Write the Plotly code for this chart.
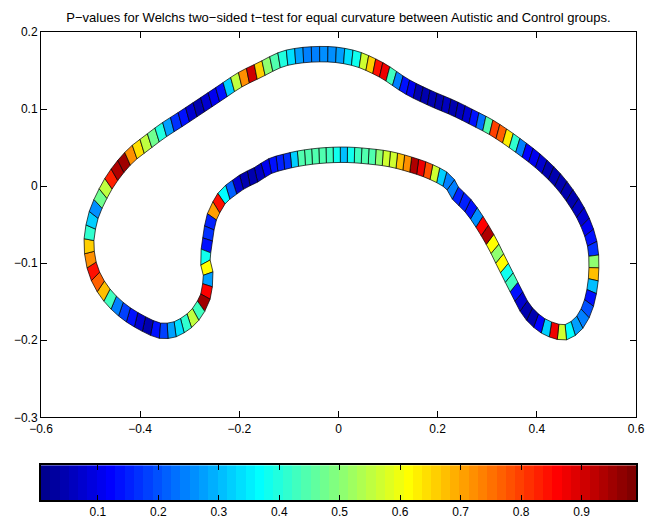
import numpy as np
import plotly.graph_objects as go

# Centerline of the contour (data units), traversed as a closed loop
center_x = [-0.360, -0.3867, -0.4270, -0.4607, -0.4843, -0.4976, -0.5030, -0.5024, -0.4944, -0.4774,
            -0.4540, -0.4204, -0.3867, -0.3538, -0.3196, -0.2792, -0.2389, -0.1986, -0.1583, -0.1179,
            -0.0843, -0.0440, -0.0036, 0.0367, 0.0702, 0.0972, 0.1375, 0.1845, 0.2315, 0.2718,
            0.3121, 0.3593, 0.4063, 0.4466, 0.4802, 0.5004, 0.5125, 0.5151, 0.5125, 0.5036,
            0.4869, 0.4601, 0.4331, 0.4063, 0.3794, 0.3593, 0.3423, 0.3256, 0.3089, 0.2853,
            0.2617, 0.2349, 0.2208, 0.1845, 0.1442, 0.1038, 0.0635, 0.0165, -0.0306, -0.0710,
            -0.1044, -0.1381, -0.1649, -0.1919, -0.2153, -0.2323, -0.2423, -0.2524, -0.2591, -0.2625,
            -0.2657, -0.2692, -0.2657, -0.2625, -0.2641, -0.2671, -0.2726, -0.2927, -0.3196, -0.3380]
center_y = [-0.1876, -0.1808, -0.1656, -0.1462, -0.1247, -0.1032, -0.0817, -0.0645, -0.0386, -0.0128,
            0.0130, 0.0389, 0.0562, 0.0721, 0.0863, 0.1035, 0.1208, 0.1380, 0.1509, 0.1638,
            0.1690, 0.1712, 0.1703, 0.1651, 0.1561, 0.1466, 0.1293, 0.1143, 0.1014, 0.0885,
            0.0747, 0.0540, 0.0304, 0.0045, -0.0257, -0.0516, -0.0774, -0.1032, -0.1291, -0.1549,
            -0.1764, -0.1893, -0.1872, -0.1786, -0.1614, -0.1376, -0.1161, -0.0946, -0.0730, -0.0472,
            -0.0257, -0.0084, 0.0062, 0.0191, 0.0282, 0.0350, 0.0385, 0.0407, 0.0398, 0.0368,
            0.0324, 0.0260, 0.0152, 0.0066, -0.0041, -0.0128, -0.0235, -0.0342, -0.0494, -0.0623,
            -0.0774, -0.0946, -0.1053, -0.1161, -0.1282, -0.1395, -0.1505, -0.1699, -0.1828, -0.1870]

# P-values of the band segments, stretch by stretch along the loop
p_outer_left = [0.14, 0.05, 0.08, 0.13, 0.19, 0.25, 0.43, 0.68, 0.77, 0.85, 0.72, 0.66, 0.42, 0.32,
                0.26, 0.48, 0.55, 0.83, 0.93, 0.95, 0.72, 0.65, 0.55, 0.47, 0.40, 0.28, 0.17]
p_outer_top_left = [0.13, 0.07, 0.05, 0.07, 0.11, 0.13, 0.32, 0.55, 0.72, 0.90, 0.66, 0.50, 0.44,
                    0.40, 0.34, 0.27, 0.25, 0.25, 0.26, 0.26, 0.28, 0.33, 0.38]
p_outer_top_right = [0.56, 0.66, 0.84, 0.87, 0.43, 0.25, 0.14, 0.10, 0.05, 0.05, 0.04, 0.05, 0.06,
                     0.05, 0.06, 0.08, 0.13, 0.23, 0.45, 0.80, 0.77, 0.63, 0.42, 0.25, 0.12]
p_right_lobe = [0.11, 0.07, 0.05, 0.05, 0.05, 0.05, 0.05, 0.06, 0.08, 0.10, 0.13, 0.16, 0.50, 0.68,
                0.30, 0.14, 0.20, 0.24, 0.27, 0.37, 0.56, 0.87, 0.32, 0.12, 0.05, 0.05, 0.08, 0.13,
                0.43, 0.38, 0.62, 0.50, 0.62, 0.93, 0.86, 0.26, 0.14, 0.15]
p_inner_top = [0.15, 0.24, 0.25, 0.32, 0.56, 0.78, 0.87, 0.93, 0.72, 0.67, 0.57, 0.56, 0.50, 0.44,
               0.45, 0.43, 0.38, 0.30, 0.38, 0.43, 0.44, 0.45, 0.44, 0.45, 0.32, 0.17, 0.15, 0.14]
p_inner_left = [0.10, 0.06, 0.05, 0.05, 0.08, 0.22, 0.37, 0.84, 0.70, 0.15, 0.16, 0.14, 0.38, 0.62,
                0.27, 0.86, 0.95, 0.43, 0.55, 0.42, 0.33, 0.27, 0.18]
stretches = [p_outer_left, p_outer_top_left, p_outer_top_right, p_right_lobe, p_inner_top, p_inner_left]
# where each stretch begins/ends along the centerline (fractional vertex index)
stretch_bounds = [0, 14, 23.2, 31.6, 50.5, 61, 80]

color_min, color_max = 0.006, 0.99
band_half_width = 0.01
cbar_ticks = [0.1, 0.2, 0.3, 0.4, 0.5, 0.6, 0.7, 0.8, 0.9]
title_text = "P\u2212values for Welchs two\u2212sided t\u2212test for equal curvature between Autistic and Control groups."


def jet(m=64):
    """MATLAB-style jet colormap with m entries (rgb in 0..1)."""
    n = int(np.ceil(m / 4))
    u = np.r_[np.arange(1, n + 1) / n, np.ones(n - 1), np.arange(n, 0, -1) / n]
    g = int(np.ceil(n / 2)) - int(m % 4 == 1) + np.arange(1, len(u) + 1)
    r = g + n
    b = g - n
    cmap = np.zeros((m, 3))
    for idx, ch in ((r, 0), (g, 1), (b, 2)):
        ok = (idx >= 1) & (idx <= m)
        cmap[idx[ok] - 1, ch] = u[ok]
    return cmap


JET = jet(64)


def rgb(c):
    return "rgb(%d,%d,%d)" % tuple(int(round(v * 255)) for v in c)


def value_color(p):
    t = (p - color_min) / (color_max - color_min)
    k = int(np.clip(np.floor(t * 64), 0, 63))
    return rgb(JET[k])


# Smooth closed centerline (Catmull-Rom through the listed points)
SUB = 24
pts = np.column_stack([center_x, center_y])
n = len(pts)
dense = []
for i in range(n):
    p0, p1, p2, p3 = pts[i - 1], pts[i], pts[(i + 1) % n], pts[(i + 2) % n]
    for t in np.linspace(0, 1, SUB, endpoint=False):
        t2, t3 = t * t, t * t * t
        dense.append(0.5 * ((2 * p1) + (-p0 + p2) * t + (2 * p0 - 5 * p1 + 4 * p2 - p3) * t2
                            + (-p0 + 3 * p1 - 3 * p2 + p3) * t3))
dense.append(dense[0])
dense = np.array(dense)
seg = np.hypot(np.diff(dense[:, 0]), np.diff(dense[:, 1]))
s = np.r_[0, np.cumsum(seg)]
total = s[-1]


def at(sv):
    sv = np.mod(sv, total)
    return np.array([np.interp(sv, s, dense[:, 0]), np.interp(sv, s, dense[:, 1])])


def s_of_vertex(v):
    return np.interp(v * SUB, np.arange(len(s)), s)


# segment boundaries: equal spacing inside each stretch
p_values = []
bounds = []
for vals, va, vb in zip(stretches, stretch_bounds[:-1], stretch_bounds[1:]):
    sa, sb = s_of_vertex(va), s_of_vertex(vb)
    bounds.extend(np.linspace(sa, sb, len(vals) + 1)[:-1])
    p_values.extend(vals)
bounds.append(total)

outer, inner = [], []
eps = total * 1e-3
for sb in bounds:
    c = at(sb)
    tan = at(sb + eps) - at(sb - eps)
    tan /= np.hypot(*tan)
    nrm = np.array([-tan[1], tan[0]])
    outer.append(c + band_half_width * nrm)
    inner.append(c - band_half_width * nrm)

shapes = []
for k, p in enumerate(p_values):
    a, b, c, d = outer[k], outer[k + 1], inner[k + 1], inner[k]
    path = "M %.5f,%.5f L %.5f,%.5f L %.5f,%.5f L %.5f,%.5f Z" % (a[0], a[1], b[0], b[1], c[0], c[1], d[0], d[1])
    shapes.append(dict(type="path", path=path, xref="x", yref="y", fillcolor=value_color(p),
                       line=dict(color="black", width=0.7), layer="above"))

fig = go.Figure()

# invisible trace to set up the main axes
fig.add_trace(go.Scatter(x=[None], y=[None], mode="markers", showlegend=False, hoverinfo="skip"))

# horizontal colour bar drawn as a 64-cell strip
edges = np.linspace(color_min, color_max, 65)
centers = 0.5 * (edges[:-1] + edges[1:])
cscale = [[i / 63, rgb(JET[i])] for i in range(64)]
fig.add_trace(go.Heatmap(x=centers, y=[0.5], z=[list(range(64))], zmin=0, zmax=63,
                         colorscale=cscale, showscale=False, xaxis="x2", yaxis="y2", hoverinfo="skip"))

font = dict(family="Liberation Sans, Arial, sans-serif", size=12, color="black")
fig.update_layout(
    width=657, height=531, autosize=False,
    margin=dict(l=41, r=21, t=32, b=29),
    paper_bgcolor="white", plot_bgcolor="white",
    font=font,
    showlegend=False,
    shapes=shapes,
    title=dict(text=title_text, x=0.5, xref="paper", xanchor="center", y=0.968, yanchor="middle",
               font=dict(family="Liberation Sans, Arial, sans-serif", size=13, color="black")),
    xaxis=dict(range=[-0.6, 0.6], tickvals=[-0.6, -0.4, -0.2, 0, 0.2, 0.4, 0.6],
               ticktext=["\u22120.6", "\u22120.4", "\u22120.2", "0", "0.2", "0.4", "0.6"],
               ticks="inside", ticklen=6, tickcolor="black", mirror="ticks",
               showline=True, linecolor="black", linewidth=1, showgrid=False, zeroline=False,
               domain=[0, 1], anchor="y"),
    yaxis=dict(range=[-0.3, 0.2], tickvals=[-0.3, -0.2, -0.1, 0, 0.1, 0.2],
               ticktext=["\u22120.3", "\u22120.2", "\u22120.1", "0", "0.1", "0.2"],
               ticks="inside", ticklen=6, tickcolor="black", mirror="ticks",
               showline=True, linecolor="black", linewidth=1, showgrid=False, zeroline=False,
               domain=[0.1766, 1], anchor="x"),
    xaxis2=dict(range=[color_min, color_max], tickvals=cbar_ticks,
                ticktext=[str(v) for v in cbar_ticks],
                ticks="inside", ticklen=5, tickcolor="black", mirror="ticks",
                showline=True, linecolor="black", linewidth=1.5, showgrid=False, zeroline=False,
                domain=[0, 1], anchor="y2"),
    yaxis2=dict(range=[0, 1], showticklabels=False, ticks="",
                showline=True, linecolor="black", linewidth=1.5, mirror=True,
                showgrid=False, zeroline=False, domain=[0, 0.0745], anchor="x2"),
)

fig.write_html("out.html", config={"responsive": False})
